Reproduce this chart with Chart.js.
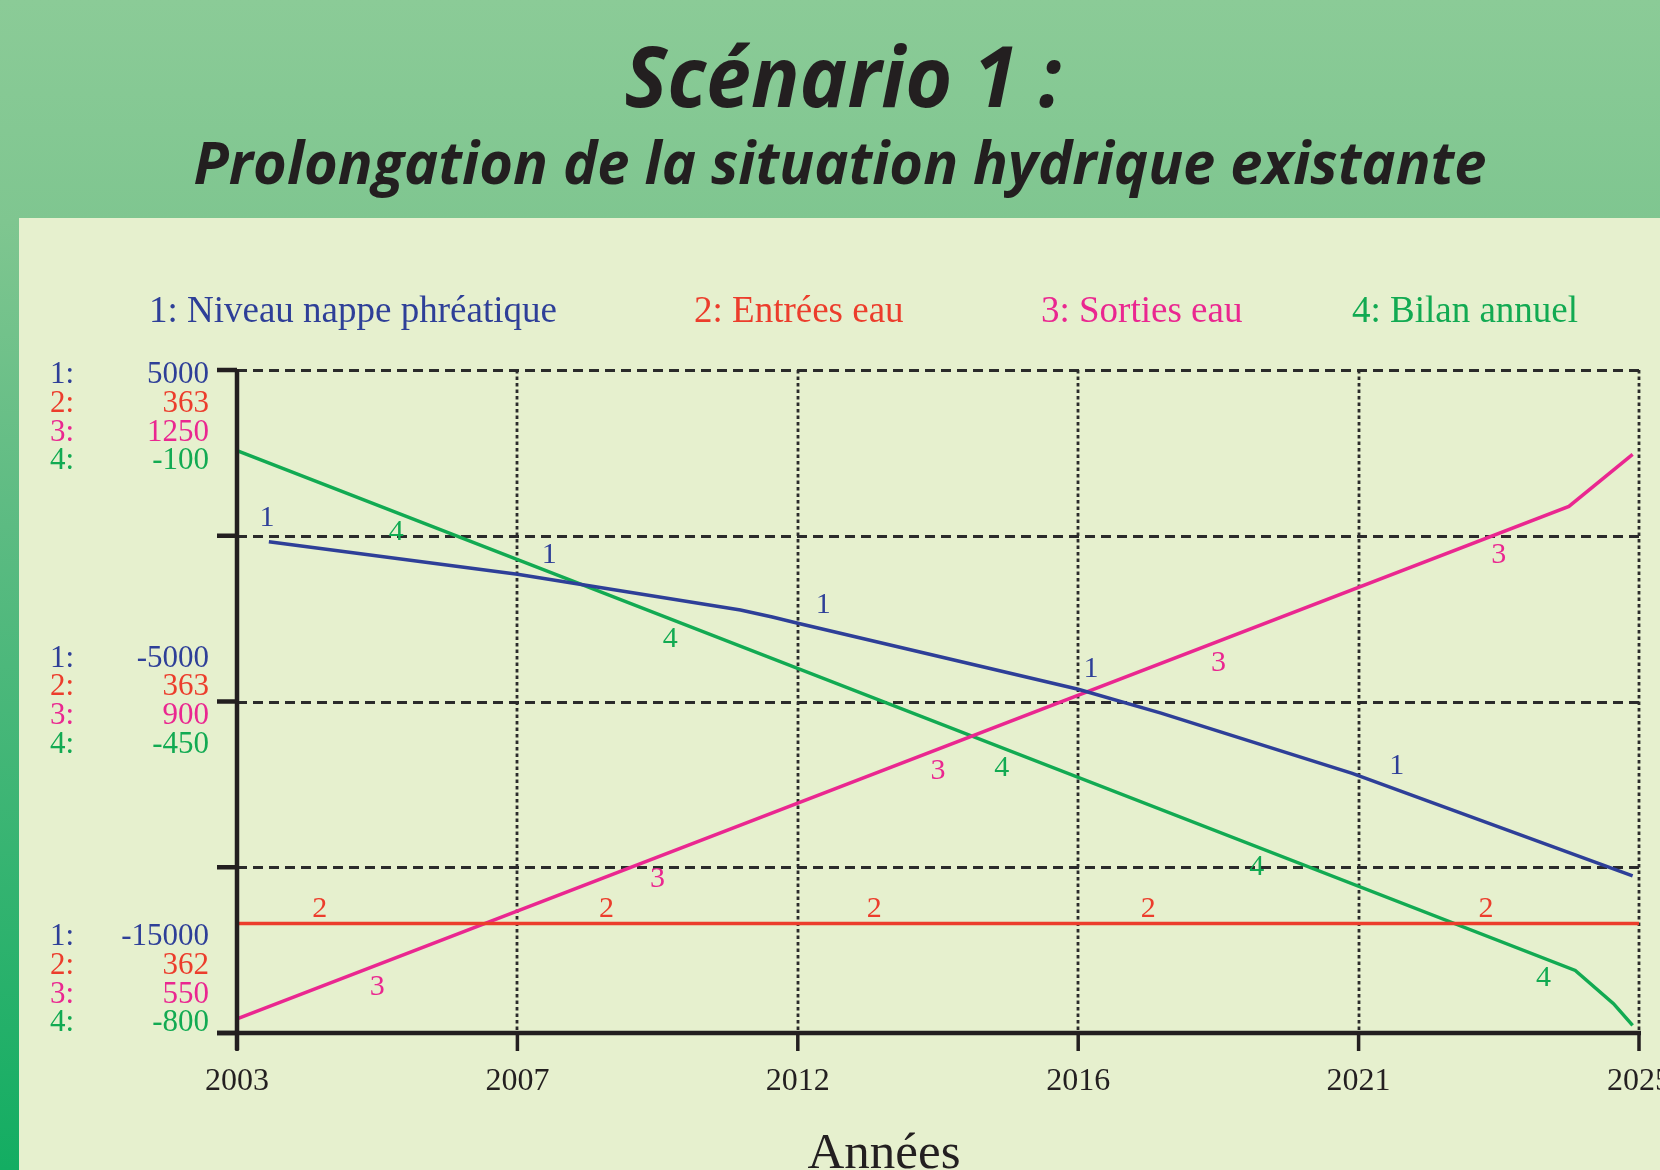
<!DOCTYPE html>
<html><head><meta charset="utf-8">
<script src="https://cdn.jsdelivr.net/npm/chart.js@4.4.1/dist/chart.umd.min.js"></script>
<style>html,body{margin:0;padding:0;background:#e6f0ce;overflow:hidden}canvas{display:block}</style>
</head><body>
<canvas id="c" width="1660" height="1170"></canvas>
<script>
// ---- data ----
const seriesNames = ['1: Niveau nappe phréatique', '2: Entrées eau', '3: Sorties eau', '4: Bilan annuel'];
const seriesColors = ['#2e3f98', '#ec3d2c', '#ea2790', '#12aa52'];
const nappeYears = [2003.5, 2007.4, 2010.9, 2011.4, 2011.8, 2016.2, 2017.5, 2020.5, 2024.9];
const nappeValues = [-180, -1160, -2240, -2450, -2640, -4630, -5350, -7170, -10260];
const entreesYears = [2003, 2025];
const entreesValues = [362.165, 362.165];
const sortiesYears = [2003, 2023.9, 2024.9];
const sortiesValues = [565, 1106, 1161];
const bilanYears = [2003, 2024.0, 2024.6, 2024.9];
const bilanValues = [-185, -734, -769, -792];
const xTickValues = [2003, 2007.4, 2011.8, 2016.2, 2020.6, 2025];
const xTickLabels = ['2003', '2007', '2012', '2016', '2021', '2025'];
const axisMin = [-15000, 362, 550, -800];
const axisMax = [5000, 363, 1250, -100];
const yGridValues = [5000, 0, -5000, -10000, -15000];
const yTickLabelsTop = ['5000', '363', '1250', '-100'];
const yTickLabelsMid = ['-5000', '363', '900', '-450'];
const yTickLabelsBottom = ['-15000', '362', '550', '-800'];
const lineLabelYears = [
  [2003.47, 2007.9, 2012.2, 2016.4, 2021.2],
  [2004.3, 2008.8, 2013.0, 2017.3, 2022.6],
  [2005.2, 2009.6, 2014.0, 2018.4, 2022.8],
  [2005.5, 2009.8, 2015.0, 2019.0, 2023.5]
];
const xAxisTitle = 'Années';
const titleText = 'Scénario 1 :';
const subtitleText = 'Prolongation de la situation hydrique existante';

// ---- helpers ----
function pts(xs, ys) { return xs.map((x, i) => ({ x: x, y: ys[i] })); }
const INK = '#231f20';
const SERIF = '"Liberation Serif", "Times New Roman", serif';

function drawFitted(ctx, text, font, cx, baseline, width) {
  ctx.save();
  ctx.font = font; ctx.fillStyle = INK; ctx.textAlign = 'center'; ctx.textBaseline = 'alphabetic';
  const w = ctx.measureText(text).width;
  ctx.translate(cx, baseline); ctx.scale(width / w, 1);
  ctx.fillText(text, 0, 0);
  ctx.restore();
}
function yAtPixel(meta, px) {
  const d = meta.data;
  if (px <= d[0].x) return d[0].y;
  for (let i = 1; i < d.length; i++) {
    if (px <= d[i].x) {
      const t = (px - d[i - 1].x) / (d[i].x - d[i - 1].x);
      return d[i - 1].y + t * (d[i].y - d[i - 1].y);
    }
  }
  return d[d.length - 1].y;
}

const backgroundPlugin = {
  id: 'bgp',
  beforeDraw(chart) {
    const ctx = chart.ctx;
    ctx.save();
    const g = ctx.createLinearGradient(0, 0, 0, 1170);
    g.addColorStop(0, '#8bcb97'); g.addColorStop(0.19, '#7fc690');
    g.addColorStop(0.45, '#5cbb82'); g.addColorStop(1, '#13ad62');
    ctx.fillStyle = g; ctx.fillRect(0, 0, 1660, 1170);
    ctx.fillStyle = '#e6f0ce'; ctx.fillRect(19, 218, 1641, 952);
    ctx.restore();
    drawFitted(ctx, titleText, 'italic 700 84px "Open Sans"', 843, 107, 437);
    drawFitted(ctx, subtitleText, 'italic 700 59px "Open Sans"', 840, 184, 1293);
  },
  beforeDatasetsDraw(chart) {
    const ctx = chart.ctx, ca = chart.chartArea, xs = chart.scales.x, ys = chart.scales.y1;
    ctx.save();
    ctx.strokeStyle = '#2b2b2b';
    ctx.lineWidth = 2.8; ctx.setLineDash([10, 6]);
    yGridValues.slice(0, 4).forEach(v => {
      const y = Math.round(ys.getPixelForValue(v)) + 0.5;
      ctx.beginPath(); ctx.moveTo(ca.left, y); ctx.lineTo(ca.right, y); ctx.stroke();
    });
    ctx.lineWidth = 2.8; ctx.setLineDash([3.5, 3]);
    xTickValues.slice(1).forEach(v => {
      const x = Math.round(xs.getPixelForValue(v));
      ctx.beginPath(); ctx.moveTo(x, ca.top); ctx.lineTo(x, ca.bottom); ctx.stroke();
    });
    ctx.restore();
  },
  afterDatasetsDraw(chart) {
    const ctx = chart.ctx, ca = chart.chartArea, xs = chart.scales.x, ys = chart.scales.y1;
    ctx.save();
    ctx.strokeStyle = INK; ctx.setLineDash([]);
    // axes
    ctx.lineWidth = 4.5;
    ctx.beginPath(); ctx.moveTo(ca.left, ca.top - 1); ctx.lineTo(ca.left, ca.bottom + 17); ctx.stroke();
    ctx.beginPath(); ctx.moveTo(ca.left - 20, ca.bottom); ctx.lineTo(ca.right + 2, ca.bottom); ctx.stroke();
    yGridValues.forEach(v => {
      const y = ys.getPixelForValue(v);
      ctx.beginPath(); ctx.moveTo(ca.left - 20, y); ctx.lineTo(ca.left, y); ctx.stroke();
    });
    ctx.lineWidth = 3.5;
    xTickValues.forEach(v => {
      const x = xs.getPixelForValue(v);
      ctx.beginPath(); ctx.moveTo(x, ca.bottom); ctx.lineTo(x, ca.bottom + 18); ctx.stroke();
    });
    // x tick labels
    ctx.fillStyle = INK; ctx.font = '32px ' + SERIF; ctx.textAlign = 'center'; ctx.textBaseline = 'alphabetic';
    xTickValues.forEach((v, i) => ctx.fillText(xTickLabels[i], xs.getPixelForValue(v), ca.bottom + 57));
    // x axis title
    ctx.font = '51px ' + SERIF;
    ctx.fillText(xAxisTitle, 884, ca.bottom + 135);
    // y tick label blocks
    ctx.font = '31px ' + SERIF;
    const blocks = [[yTickLabelsTop, 0, 13], [yTickLabelsMid, 2, -35], [yTickLabelsBottom, 4, -88]];
    blocks.forEach(([labels, gi, off]) => {
      const y0 = ys.getPixelForValue(yGridValues[gi]) + off;
      labels.forEach((lab, k) => {
        const yy = y0 + k * 28.8;
        ctx.fillStyle = seriesColors[k];
        ctx.textAlign = 'left'; ctx.fillText((k + 1) + ':', 50, yy);
        ctx.textAlign = 'right'; ctx.fillText(lab, 209, yy);
      });
    });
    // legend
    ctx.font = '37px ' + SERIF; ctx.textAlign = 'left';
    const legendX = [149, 694, 1041, 1352];
    seriesNames.forEach((n, i) => { ctx.fillStyle = seriesColors[i]; ctx.fillText(n, legendX[i], 322); });
    // line number labels
    ctx.font = '30px ' + SERIF; ctx.textAlign = 'center';
    const offs = [-26, -17, 20, 18];
    lineLabelYears.forEach((yrs, i) => {
      const meta = chart.getDatasetMeta(i);
      ctx.fillStyle = seriesColors[i];
      yrs.forEach(yr => {
        const px = xs.getPixelForValue(yr);
        const cy = yAtPixel(meta, px) + offs[i];
        ctx.fillText(String(i + 1), px, cy + 10);
      });
    });
    ctx.restore();
  }
};

new Chart(document.getElementById('c'), {
  type: 'line',
  data: {
    datasets: [
      { label: seriesNames[0], data: pts(nappeYears, nappeValues), yAxisID: 'y1', borderColor: seriesColors[0] },
      { label: seriesNames[1], data: pts(entreesYears, entreesValues), yAxisID: 'y2', borderColor: seriesColors[1] },
      { label: seriesNames[2], data: pts(sortiesYears, sortiesValues), yAxisID: 'y3', borderColor: seriesColors[2] },
      { label: seriesNames[3], data: pts(bilanYears, bilanValues), yAxisID: 'y4', borderColor: seriesColors[3] }
    ]
  },
  options: {
    responsive: false, animation: false, devicePixelRatio: 1,
    layout: { padding: { left: 237, right: 21, top: 370, bottom: 137 } },
    plugins: { legend: { display: false }, tooltip: { enabled: false }, title: { display: false } },
    elements: { point: { radius: 0 }, line: { tension: 0, borderWidth: 3.5, fill: false } },
    scales: {
      x: { type: 'linear', min: 2003, max: 2025, display: false },
      y1: { type: 'linear', min: axisMin[0], max: axisMax[0], display: false },
      y2: { type: 'linear', min: axisMin[1], max: axisMax[1], display: false },
      y3: { type: 'linear', min: axisMin[2], max: axisMax[2], display: false },
      y4: { type: 'linear', min: axisMin[3], max: axisMax[3], display: false }
    }
  },
  plugins: [backgroundPlugin]
});
</script>
</body></html>
